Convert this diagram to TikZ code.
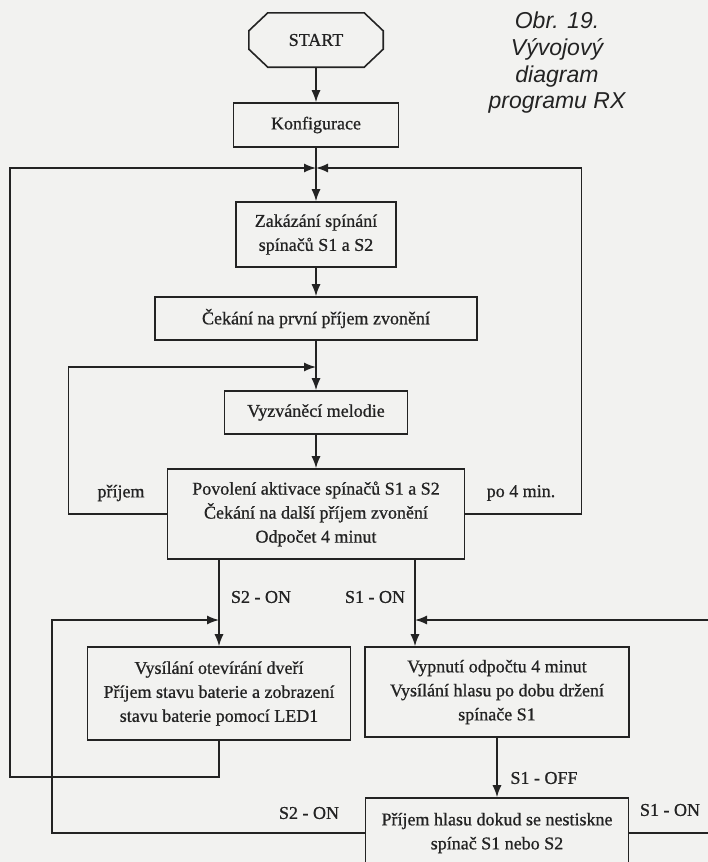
\documentclass[tikz,border=0pt]{standalone}
\usepackage{fontspec}
\setmainfont{Liberation Serif}[FakeBold=0.8]
\newfontfamily\capfont{Liberation Sans}
\usetikzlibrary{arrows.meta}

\definecolor{ink}{RGB}{35,35,35}
\definecolor{paper}{RGB}{242,242,240}

\tikzstyle{every node}=[text=ink, align=center, inner sep=2pt, font={\fontsize{18}{24}\selectfont}]
\tikzstyle{block}=[draw=ink, line width=1.6pt]
\tikzstyle{flow}=[draw=ink, line width=1.4pt]
\tikzstyle{arr}=[flow, -{Latex[length=12pt,width=9pt]}]
\tikzstyle{caption}=[font={\capfont\itshape\fontsize{23}{26.7}\selectfont}]

\begin{document}
\begin{tikzpicture}[x=1pt, y=-1pt]
    \fill[paper] (0,0) rectangle (708,862);
    \useasboundingbox (0,0) rectangle (708,862);

    \node [caption] (obr) at (557,63) {Obr. 19.\\Vývojový\\diagram\\programu RX};

    % main column
    \node [minimum width=134pt, minimum height=54pt] (start) at (316,40) {START};
    \draw [block] ([xshift=19pt]start.north west) -- ([xshift=-19pt]start.north east)
        -- ([yshift=-18pt]start.north east) -- ([yshift=18pt]start.south east)
        -- ([xshift=-19pt]start.south east) -- ([xshift=19pt]start.south west)
        -- ([yshift=18pt]start.south west) -- ([yshift=-18pt]start.north west) -- cycle;
    \node [block, minimum width=165pt, minimum height=44pt] (konf) at (316,125) {Konfigurace};
    \coordinate (j1) at (316,168);
    \node [block, minimum width=160pt, minimum height=65pt] (zak) at (316,234.5) {Zakázání spínání\\spínačů S1 a S2};
    \node [block, minimum width=322pt, minimum height=43pt] (cekani) at (316,318.5) {Čekání na první příjem zvonění};
    \coordinate (j2) at (316,367);
    \node [block, minimum width=183pt, minimum height=43pt] (melodie) at (316,412.5) {Vyzváněcí melodie};
    \node [block, minimum width=297pt, minimum height=90pt] (povoleni) at (316,514)
        {Povolení aktivace spínačů S1 a S2\\Čekání na další příjem zvonění\\Odpočet 4 minut};

    % branches
    \coordinate (s2) at (219,620);
    \coordinate (s1) at (415,620);
    \node [block, minimum width=263pt, minimum height=93pt] (vysilani) at (219,693.5)
        {Vysílání otevírání dveří\\Příjem stavu baterie a zobrazení\\stavu baterie pomocí LED1};
    \node [block, minimum width=264pt, minimum height=90pt] (vypnuti) at (497,692)
        {Vypnutí odpočtu 4 minut\\Vysílání hlasu po dobu držení\\spínače S1};
    \node [block, minimum width=263pt, minimum height=70pt] (hlas) at (497,833)
        {Příjem hlasu dokud se nestiskne\\spínač S1 nebo S2};

    % labels
    \node (prijem) at (121,493) {příjem};
    \node (po4) at (521,493) {po 4 min.};
    \node (s2on) at (261,597) {S2 - ON};
    \node (s1on) at (375,597) {S1 - ON};
    \node (s1off) at (544,778) {S1 - OFF};
    \node (s2on2) at (309,813) {S2 - ON};
    \node (s1on2) at (670,810) {S1 - ON};

    % connectors
    \draw [arr] (start) -- (konf);
    \draw [flow] (konf) -- (j1);
    \draw [arr] (j1) -- (zak);
    \draw [arr] (zak) -- (cekani);
    \draw [flow] (cekani) -- (j2);
    \draw [arr] (j2) -- (melodie);
    \draw [arr] (melodie) -- (povoleni);
    \draw [arr] (povoleni.west) -- ++(-98,0) |- (j2);
    \draw [arr] (povoleni.east) -- ++(116,0) |- (j1);
    \draw [flow] (povoleni.south -| s2) -- (s2);
    \draw [arr] (s2) -- (vysilani.north);
    \draw [flow] (povoleni.south -| s1) -- (s1);
    \draw [arr] (s1) -- (s1 |- vypnuti.north);
    \draw [arr] (vysilani.south) -- ++(0,36) -| (10,168) -- (j1);
    \draw [arr] (vypnuti) -- (hlas);
    \draw [arr] (hlas.west) -- (52,833) |- (s2);
    \draw [arr] (hlas.east) -- (716,833) |- (s1);
\end{tikzpicture}
\end{document}
